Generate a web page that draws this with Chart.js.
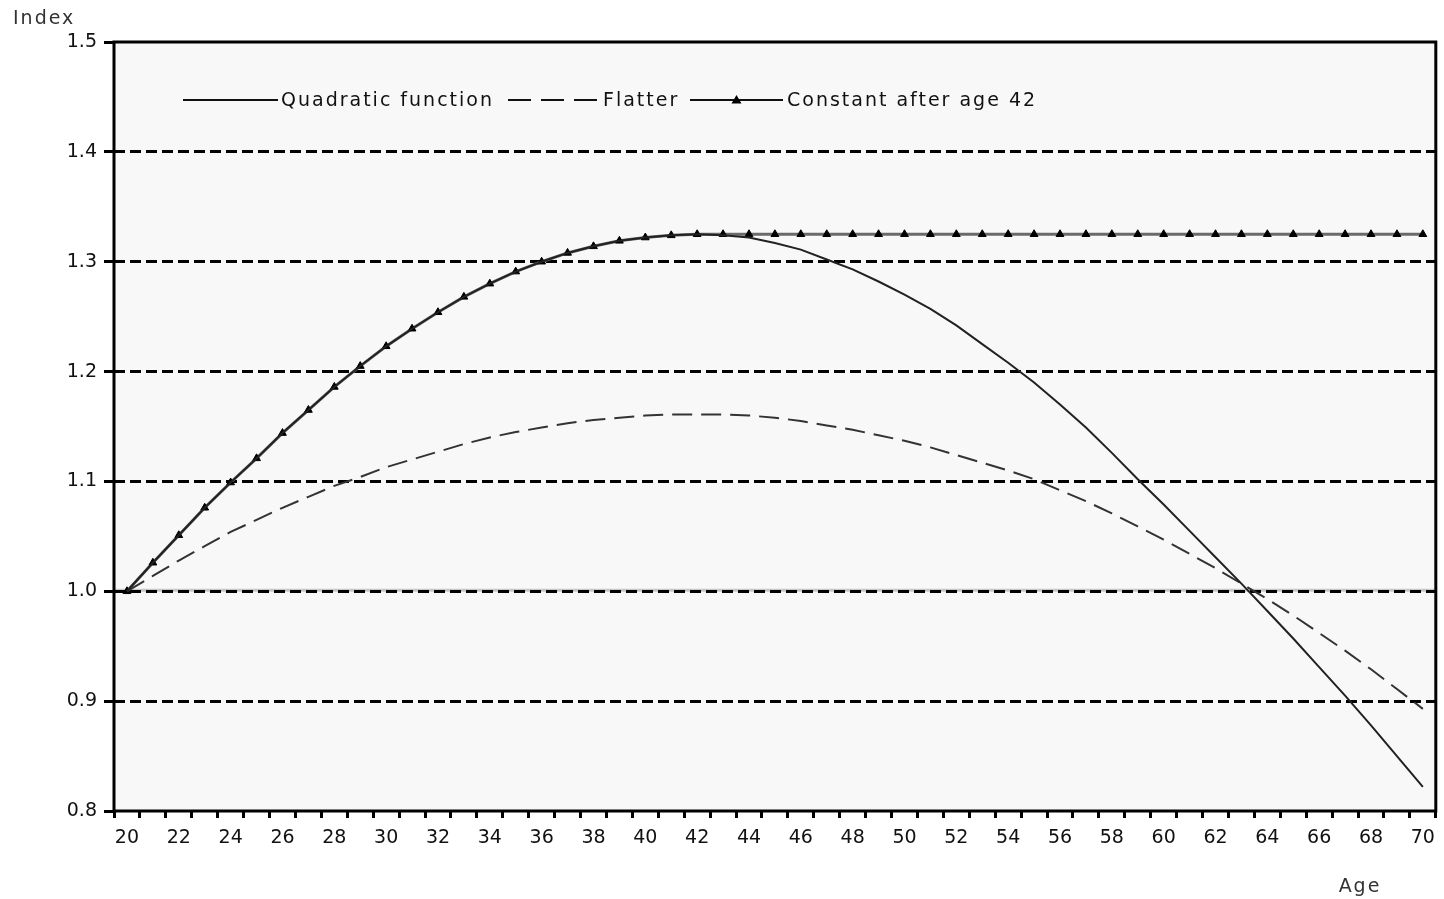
<!DOCTYPE html>
<html>
<head>
<meta charset="utf-8">
<script src="https://cdn.jsdelivr.net/npm/chart.js@4.4.1/dist/chart.umd.min.js"></script>
<style>
  html, body { margin: 0; padding: 0; background: #fff; }
  #wrap { width: 1444px; height: 899px; }
</style>
</head>
<body>
<div id="wrap"><canvas id="chart" width="1444" height="899"></canvas></div>
<script>
// Age categories (one per year), labels shown every second year
const ages = [20, 21, 22, 23, 24, 25, 26, 27, 28, 29, 30, 31, 32, 33, 34, 35, 36, 37, 38, 39, 40,
  41, 42, 43, 44, 45, 46, 47, 48, 49, 50, 51, 52, 53, 54, 55, 56, 57, 58, 59, 60,
  61, 62, 63, 64, 65, 66, 67, 68, 69, 70];

// Index values
const quadratic = [1.000, 1.026, 1.051, 1.076, 1.099, 1.121, 1.144, 1.165, 1.186, 1.205, 1.223,
  1.239, 1.254, 1.268, 1.280, 1.291, 1.300, 1.308, 1.314, 1.319, 1.322,
  1.324, 1.325, 1.324, 1.322, 1.317, 1.311, 1.302, 1.293, 1.282, 1.270,
  1.257, 1.242, 1.225, 1.208, 1.190, 1.170, 1.149, 1.126, 1.102, 1.079,
  1.055, 1.031, 1.007, 0.982, 0.957, 0.931, 0.905, 0.878, 0.850, 0.822];

const flatter = [1.000, 1.014, 1.028, 1.041, 1.054, 1.065, 1.076, 1.086, 1.096, 1.104, 1.113,
  1.120, 1.127, 1.134, 1.140, 1.145, 1.149, 1.153, 1.156, 1.158, 1.160,
  1.161, 1.161, 1.161, 1.160, 1.158, 1.155, 1.151, 1.147, 1.142, 1.137,
  1.131, 1.124, 1.117, 1.110, 1.102, 1.092, 1.082, 1.071, 1.059, 1.047,
  1.034, 1.021, 1.007, 0.993, 0.978, 0.962, 0.946, 0.929, 0.911, 0.893];

const constant42 = [1.000, 1.026, 1.051, 1.076, 1.099, 1.121, 1.144, 1.165, 1.186, 1.205, 1.223,
  1.239, 1.254, 1.268, 1.280, 1.291, 1.300, 1.308, 1.314, 1.319, 1.322,
  1.324, 1.325, 1.325, 1.325, 1.325, 1.325, 1.325, 1.325, 1.325, 1.325,
  1.325, 1.325, 1.325, 1.325, 1.325, 1.325, 1.325, 1.325, 1.325, 1.325,
  1.325, 1.325, 1.325, 1.325, 1.325, 1.325, 1.325, 1.325, 1.325, 1.325];

const seriesNames = ['Quadratic function', 'Flatter', 'Constant after age 42'];
const yMin = 0.8, yMax = 1.5, yStep = 0.1;

const FONT = '"DejaVu Sans", "Liberation Sans", sans-serif';
const TEXT = '#111';

function isEdge(v) { return Math.abs(v - yMin) < 1e-6 || Math.abs(v - yMax) < 1e-6; }

// plot background, frame, legend inside plot and the two axis titles
const decor = {
  id: 'decor',
  beforeDraw(chart) {
    const { ctx, chartArea: a, scales } = chart;
    ctx.save();
    ctx.fillStyle = '#f8f8f8';
    ctx.fillRect(a.left, a.top, a.right - a.left, a.bottom - a.top);
    const y1 = scales.y.getPixelForValue(1.0);
    ctx.strokeStyle = '#c8c8c8';
    ctx.lineWidth = 3;
    ctx.beginPath();
    ctx.moveTo(a.left, y1 - 1);
    ctx.lineTo(a.right, y1 - 1);
    ctx.stroke();
    ctx.restore();
  },
  afterDraw(chart) {
    const { ctx, chartArea: a } = chart;
    ctx.save();
    ctx.strokeStyle = '#000';
    ctx.lineWidth = 3;
    ctx.setLineDash([]);
    ctx.strokeRect(a.left, a.top, a.right - a.left, a.bottom - a.top);

    // legend
    const ly = 100;
    const items = [
      { x: 183, len: 95, gap: 3, dash: [], marker: false },
      { x: 508, len: 89, gap: 6, dash: [23, 10], marker: false },
      { x: 690, len: 93, gap: 4, dash: [], marker: true }
    ];
    ctx.font = '19px ' + FONT;
    ctx.letterSpacing = '2px';
    ctx.textBaseline = 'middle';
    ctx.textAlign = 'left';
    items.forEach((it, i) => {
      ctx.strokeStyle = '#111';
      ctx.lineWidth = 2;
      ctx.setLineDash(it.dash);
      ctx.beginPath();
      ctx.moveTo(it.x, ly);
      ctx.lineTo(it.x + it.len, ly);
      ctx.stroke();
      ctx.setLineDash([]);
      if (it.marker) {
        const cx = it.x + it.len / 2;
        ctx.fillStyle = '#000';
        ctx.beginPath();
        ctx.moveTo(cx, ly - 5);
        ctx.lineTo(cx + 5, ly + 3.5);
        ctx.lineTo(cx - 5, ly + 3.5);
        ctx.closePath();
        ctx.fill();
      }
      ctx.fillStyle = TEXT;
      ctx.fillText(seriesNames[i], it.x + it.len + it.gap, ly + 1);
    });

    // axis titles
    ctx.fillStyle = '#333';
    ctx.fillText('Index', 13, 19);
    ctx.textAlign = 'center';
    ctx.fillText('Age', 1360, 887);
    ctx.restore();
  }
};

new Chart(document.getElementById('chart').getContext('2d'), {
  type: 'line',
  data: {
    labels: ages,
    datasets: [
      {
        label: seriesNames[0],
        data: quadratic,
        borderColor: '#222',
        borderWidth: 2,
        pointRadius: 0,
        tension: 0,
        fill: false
      },
      {
        label: seriesNames[1],
        data: flatter,
        borderColor: '#333',
        borderWidth: 2,
        borderDash: [20, 9],
        pointRadius: 0,
        tension: 0,
        fill: false
      },
      {
        label: seriesNames[2],
        data: constant42,
        borderColor: '#6a6a6a',
        borderWidth: 3,
        pointStyle: 'triangle',
        pointRadius: 4.5,
        pointBackgroundColor: '#000',
        pointBorderColor: '#000',
        pointBorderWidth: 1,
        tension: 0,
        fill: false
      }
    ]
  },
  options: {
    responsive: false,
    animation: false,
    layout: { padding: { top: 42, right: 6, left: 0, bottom: 0 } },
    plugins: {
      legend: { display: false },
      tooltip: { enabled: false }
    },
    scales: {
      x: {
        type: 'category',
        offset: true,
        grid: {
          offset: true,
          drawOnChartArea: false,
          drawTicks: true,
          tickLength: 7,
          tickWidth: 3,
          tickColor: '#000',
          color: '#000',
          lineWidth: 3
        },
        border: { display: false },
        ticks: {
          autoSkip: false,
          maxRotation: 0,
          minRotation: 0,
          padding: 9,
          color: TEXT,
          font: { family: FONT, size: 19 },
          callback: function (v, i) { return i % 2 === 0 ? this.getLabelForValue(v) : ''; }
        },
        afterFit: s => { s.height = 88; }
      },
      y: {
        min: yMin,
        max: yMax,
        ticks: {
          stepSize: yStep,
          padding: 7,
          color: TEXT,
          font: { family: FONT, size: 19 },
          callback: v => Number(v).toFixed(1)
        },
        grid: {
          color: c => (isEdge(c.tick.value) ? 'rgba(0,0,0,0)' : '#000'),
          lineWidth: 3,
          tickLength: 10,
          tickWidth: 3,
          tickColor: '#000'
        },
        border: { display: false, dash: [11, 5] },
        afterFit: s => { s.width = 114; }
      }
    }
  },
  plugins: [decor]
});
</script>
</body>
</html>
